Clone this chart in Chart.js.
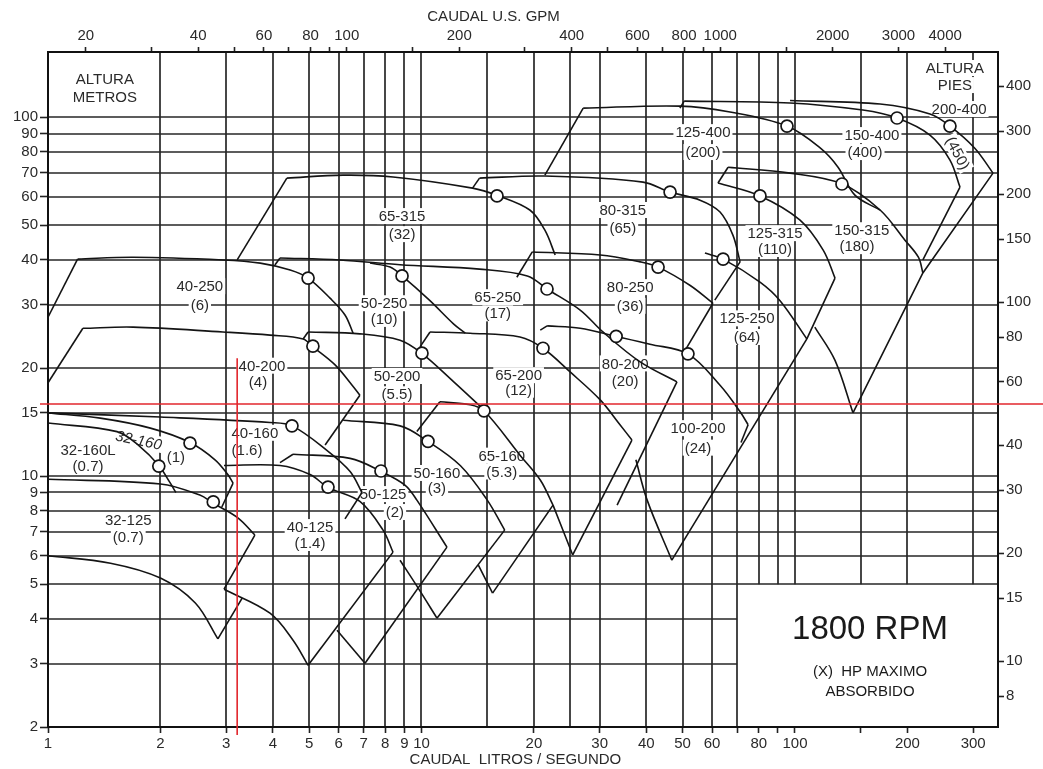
<!DOCTYPE html>
<html lang="es">
<head>
<meta charset="utf-8">
<title>Curvas 1800 RPM</title>
<script src="https://cdn.jsdelivr.net/npm/chart.js@4.4.1/dist/chart.umd.min.js"></script>
<style>
  html, body { margin: 0; padding: 0; background: #fff; }
  canvas { display: block; }
</style>
</head>
<body>
<canvas id="grafico" width="1043" height="769"></canvas>
<script>
// ejes
const Q_MIN = 1, Q_MAX = 349.6;   // litros / segundo
const H_MIN = 2, H_MAX = 151.8;   // metros
const GPM = 15.85;                // 1 L/s en US GPM
const PIES = 3.2808;              // 1 m en pies

const ticksQ = [1,2,3,4,5,6,7,8,9,10,20,30,40,50,60,70,80,90,100,150,200,300];
const labelsQ = [1,2,3,4,5,6,7,8,9,10,20,30,40,50,60,80,100,200,300];
const ticksH = [2,3,4,5,6,7,8,9,10,15,20,30,40,50,60,70,80,90,100];
const ticksGPM = [20,30,40,50,60,70,80,90,100,150,200,300,400,500,600,700,800,900,1000,1500,2000,3000,4000];
const labelsGPM = [20,40,60,80,100,200,400,600,800,1000,2000,3000,4000];
const ticksPies = [8,10,15,20,30,40,60,80,100,150,200,300,400];
const gridQ = [2,3,4,5,6,7,8,9,10,15,20,25,30,40,50,60,70,80,90,100,150,200,300];
const gridH = [3,4,5,6,7,8,9,10,15,20,30,40,50,60,70,80,90,100];

// curvas H-Q  [caudal L/s, altura m]
const b32_160 = [[1,15],[1.38,14.5],[1.88,13.6],[2.4,12.4],[2.8,11.1],[3.03,10.1],[3.13,9.56]];
const b32_160L = [[1,14.05],[1.53,13.3],[1.76,12.1],[1.98,10.7],[2.12,9.6],[2.2,9.0]];
const b32_125 = [[1,9.8],[2,9.5],[2.55,8.85],[2.77,8.4],[3.23,7.64],[3.58,6.85]];
const b32_125min = [[1,6],[1.47,5.72],[2,5.2],[2.48,4.43],[2.85,3.52]];

const b40_250 = [[1.2,40.2],[1.69,40.7],[2.94,40],[3.7,39.2],[4.45,37.5],[4.97,35.6],[5.69,31.3],[6.24,28.1],[6.56,25]];
const b40_200 = [[1.24,25.8],[1.69,26],[2.94,25.2],[3.93,24.7],[4.82,24.1],[5.12,22.9],[5.87,20.4],[6.52,17.9],[6.84,16.8]];
const b40_160 = [[1,15],[2,14.6],[3.93,14.1],[4.5,13.8],[5.58,11.8],[6.44,10.3],[6.93,9.0]];
const b40_125 = [[2.96,10.7],[4.18,10.7],[5.03,10.1],[5.62,9.3],[6.84,8.5],[7.89,7.07],[8.39,6.14]];
const b40_125min = [[2.96,4.84],[3.93,4.15],[4.53,3.49],[4.97,2.97]];

const b50_250 = [[7.28,39.2],[8.24,38.2],[8.87,36.1],[10.5,30.9],[12.2,26.5],[13.1,25.0]];
const b50_200 = [[4.97,25.2],[6.84,24.9],[8.76,23.9],[10,22],[12.2,18.3],[14.5,15.5]];
const b50_160 = [[6.17,14.3],[8.76,13.8],[10.4,12.5],[12.7,10.7],[15,8.57],[16.7,7.07]];
const b50_160min = [[8.76,5.83],[9.79,4.88],[11,4.02]];
const b50_125 = [[4.53,11.5],[6.44,11.2],[7.8,10.3],[9.03,9.44],[9.72,8.57],[11.7,6.34]];
const b50_125min = [[5.94,3.72],[7.06,3.01]];

const b65_315 = [[4.36,67.6],[6.17,68.9],[8.39,68.1],[13.7,63.4],[15.9,60.6],[19.5,55.1],[21.4,48.4],[22.8,41.3]];
const b65_250 = [[4.18,40.5],[6.05,40],[8.76,38.8],[14.3,37.7],[19.2,36.1],[21.7,33.2],[26.6,29],[30.6,25.2],[38.5,20.8],[48.3,18.3]];
const b65_200 = [[10.54,25.2],[13.49,25.0],[18.35,24.4],[21.15,22.7],[25,19.5],[30.1,16.3],[34,13.9],[36.6,12.6]];
const b65_200min = [[22.5,8.3],[25.4,6.03]];
const b65_160 = [[11.2,16.1],[13.5,15.8],[14.7,15.2],[18.4,11.4],[20.8,9.75],[22.5,8.3]];
const b65_160min = [[14.2,5.65],[15.5,4.72]];

const b80_315 = [[14.3,67.6],[21.4,68.5],[39.2,65.9],[46.3,61.8],[55.7,58.7],[63,54.4],[68.2,46.9],[71.3,39.5]];
const b80_250 = [[19.8,42.1],[30.1,41.3],[38.5,39.5],[43,38.2],[52.3,34],[60.3,30.3]];
const b80_200 = [[21.7,26.2],[26.6,25.8],[33.2,24.5],[40.9,23.3],[51.7,21.9],[63,17.9],[71.3,15.1],[74.9,13.9]];
const b100_200min = [[37.5,11.1],[40.2,8.57],[46.8,5.83]];

const b125_400 = [[27.1,105.9],[49.2,107.3],[67,103.3],[95.2,94.4],[117,81.9],[130.4,72.5],[144.7,60.6],[168.9,55.1]];
const b125_315 = [[62.2,65.5],[80.6,60.3],[103,51.7],[119,42.6],[128,35.6]];
const b125_250 = [[57.4,41.8],[64.2,40.2],[80.6,34.7],[91.2,30.8],[107.6,24.1]];
const b150_400 = [[50.5,110.8],[97,109.5],[152,104.6],[187.6,99.4],[229.8,89.1],[260,75.9],[276.6,63.8]];
const b150_315 = [[66.2,72.5],[97,69.8],[134,65.1],[169,55.1],[197,45.4],[214,40.7],[220,36.8]];
const b150_315min = [[113,26],[128,21],[143,15]];
const b200_400 = [[97,111.2],[169,108.7],[229.8,102],[260,94.4],[303,81.9],[339,69.8]];

// limites rectos de cada zona
const l32_160 = [[3.13,9.56],[2.92,8.2]];
const l32_125 = [[3.58,6.85],[2.96,4.84]];
const l32_125min = [[2.85,3.52],[3.31,4.57]];
const l40_250 = [[1,27.7],[1.2,40.2]];
const l40_200 = [[1,18.2],[1.24,25.8]];
const l40_200b = [[6.84,16.8],[5.52,12.2]];
const l40_160 = [[6.93,9.0],[6.24,7.6]];
const l40_125 = [[8.39,6.14],[4.97,2.97]];
const l50_200 = [[4.82,24.1],[4.97,25.2]];
const l50_160 = [[16.7,7.07],[11,4.02]];
const l50_125 = [[4.18,10.9],[4.53,11.5]];
const l50_125b = [[11.7,6.34],[7.06,3.01]];
const l65_315 = [[3.21,40],[4.36,67.6]];
const l65_250 = [[4.05,38.7],[4.18,40.5]];
const l65_250b = [[48.3,18.3],[33.4,8.3]];
const l65_200a = [[9.91,22.9],[10.54,25.2]];
const l65_200 = [[36.6,12.6],[25.4,6.03]];
const l65_160 = [[9.72,13.3],[11.2,16.1]];
const l65_160b = [[22.5,8.3],[15.5,4.72]];
const l80_315 = [[13.7,63.4],[14.3,67.6]];
const l80_315b = [[71.3,39.5],[61,30.9]];
const l80_250 = [[18,35.8],[19.8,42.1]];
const l80_250b = [[60.3,30.3],[50.8,22.4]];
const l80_200 = [[20.8,25.5],[21.7,26.2]];
const l100_200 = [[74.9,13.9],[71.7,12.4]];
const l125_400 = [[21.4,68.9],[27.1,105.9]];
const l125_315 = [[128,35.6],[107.6,24.1]];
const l125_250 = [[107.6,24.1],[46.8,5.83]];
const l150_400 = [[49.2,105.9],[50.5,110.8]];
const l150_400b = [[276.6,63.8],[220,40]];
const l150_315 = [[62.2,65.5],[66.2,72.5]];
const l200_400 = [[339,69.8],[220,36.8],[143,15]];

// puntos de maxima eficiencia
const bep = [[1.98,10.66],[2.4,12.36],[2.77,8.47],[4.5,13.8],[5.62,9.32],[7.79,10.33],[5.12,23.0],[4.97,35.6],
  [8.87,36.1],[10.03,22.0],[10.41,12.5],[14.7,15.2],[21.15,22.7],[21.68,33.2],[15.93,60.3],[33.2,24.5],
  [43.0,38.2],[46.3,61.8],[51.7,21.9],[64.2,40.2],[80.6,60.3],[95.2,94.4],[133.6,65.1],[187.6,99.4],[260,94.4]];

// lineas rojas de seleccion
const selQ = 3.21, selH = 15.87, selHtop = 21.3;

// textos  [texto, Q, H, giro grados, cursiva]
const etiquetas = [
  ['ALTURA',1.42,128],['METROS',1.42,113.7],
  ['ALTURA',268,137],['PIES',268,122.8],
  ['32-160L',1.28,11.8],['(0.7)',1.28,10.7],
  ['32-160',1.75,12.6,12,true],['(1)',2.2,11.3],
  ['32-125',1.64,7.54],['(0.7)',1.64,6.76],
  ['40-125',5.03,7.21],['(1.4)',5.03,6.51],
  ['40-160',3.58,13.2],['(1.6)',3.41,11.8],
  ['40-200',3.74,20.3],['(4)',3.65,18.3],
  ['40-250',2.55,33.8],['(6)',2.55,29.9],
  ['50-125',7.89,8.91],['(2)',8.49,7.94],
  ['50-160',11.0,10.2],['(3)',11.0,9.26],
  ['50-200',8.6,19.0],['(5.5)',8.6,16.9],
  ['50-250',7.94,30.3],['(10)',7.94,27.4],
  ['65-160',16.4,11.4],['(5.3)',16.4,10.3],
  ['65-200',18.2,19.1],['(12)',18.2,17.4],
  ['65-250',16.0,31.5],['(17)',16.0,28.4],
  ['65-315',8.87,53.0],['(32)',8.87,47.2],
  ['80-200',35.1,20.6],['(20)',35.1,18.4],
  ['80-250',36.2,33.6],['(36)',36.2,29.8],
  ['80-315',34.6,55.1],['(65)',34.6,49.1],
  ['100-200',55.0,13.6],['(24)',55.0,12.0],
  ['125-250',74.4,27.5],['(64)',74.4,24.4],
  ['125-315',88.4,47.5],['(110)',88.4,42.9],
  ['125-400',56.7,90.8],['(200)',56.7,79.9],
  ['150-315',151,48.4],['(180)',146.5,43.7],
  ['150-400',160.7,89.1],['(400)',154,79.9],
  ['200-400',275,105.3],
  ['(450)',273,79.4,62]
];
const rpm = [['1800 RPM',158.8,3.72,33],['(X)  HP MAXIMO',158.8,2.84,15],['ABSORBIDO',158.8,2.5,15]];

const FUENTE = '"Liberation Sans", Arial, Helvetica, sans-serif';
const TINTA = '#141414';

const curvas = [b32_160,b32_160L,b32_125,b32_125min,b40_250,b40_200,b40_160,b40_125,b40_125min,
  b50_250,b50_200,b50_160,b50_160min,b50_125,b50_125min,b65_315,b65_250,b65_200,b65_200min,b65_160,b65_160min,
  b80_315,b80_250,b80_200,b100_200min,b125_400,b125_315,b125_250,b150_400,b150_315,b150_315min,b200_400];
const limites = [l32_160,l32_125,l32_125min,l40_250,l40_200,l40_200b,l40_160,l40_125,l50_200,
  l50_160,l50_125,l50_125b,l65_315,l65_250,l65_250b,l65_200a,l65_200,l65_160,l65_160b,l80_315,l80_315b,l80_250,l80_250b,
  l80_200,l100_200,l125_400,l125_315,l125_250,l150_400,l150_400b,l150_315,l200_400];

function pts(arr) {
  return arr.map(([q, h]) => ({ x: q, y: h }));
}

function linea(arr, tension) {
  return {
    data: pts(arr), showLine: true, tension: tension, borderColor: TINTA, borderWidth: 1.6,
    pointRadius: 0, fill: false, order: 1
  };
}

//  grilla, textos y marco
const decor = {
  id: 'decor',
  beforeDatasetsDraw(chart) {
    const { ctx, chartArea: a, scales: { x, y } } = chart;
    ctx.save();
    ctx.strokeStyle = '#262626';
    ctx.lineWidth = 1.7;
    const yCaja = y.getPixelForValue(5), xCaja = x.getPixelForValue(70);
    gridQ.forEach(q => {
      const px = Math.round(x.getPixelForValue(q));
      ctx.beginPath();
      ctx.moveTo(px, a.top);
      ctx.lineTo(px, q > 70 ? yCaja : a.bottom);
      ctx.stroke();
    });
    gridH.forEach(h => {
      const py = Math.round(y.getPixelForValue(h));
      ctx.beginPath();
      ctx.moveTo(a.left, py);
      ctx.lineTo(h < 5 ? xCaja : a.right, py);
      ctx.stroke();
    });

    ctx.textAlign = 'center';
    ctx.textBaseline = 'middle';
    etiquetas.forEach(([t, q, h, giro, cursiva]) => {
      ctx.save();
      ctx.translate(x.getPixelForValue(q), y.getPixelForValue(h));
      if (giro) ctx.rotate(giro * Math.PI / 180);
      ctx.font = (cursiva ? 'italic ' : '') + '15px ' + FUENTE;
      const w = ctx.measureText(t).width;
      ctx.fillStyle = '#fff';
      ctx.fillRect(-w / 2 - 2, -8, w + 4, 16);
      ctx.fillStyle = '#2a2a2a';
      ctx.fillText(t, 0, 1);
      ctx.restore();
    });
    rpm.forEach(([t, q, h, tam]) => {
      ctx.font = tam + 'px ' + FUENTE;
      ctx.fillStyle = '#1a1a1a';
      ctx.fillText(t, x.getPixelForValue(q), y.getPixelForValue(h));
    });
    ctx.restore();
  },
  afterDatasetsDraw(chart) {
    const { ctx, chartArea: a, scales: { x, y } } = chart;
    ctx.save();
    ctx.strokeStyle = '#111';
    ctx.lineWidth = 2;
    ctx.strokeRect(a.left, a.top, a.right - a.left, a.bottom - a.top);

    ctx.fillStyle = '#2a2a2a';
    ctx.font = '15px ' + FUENTE;
    ctx.textAlign = 'center';
    ctx.textBaseline = 'middle';
    const w = a.right - a.left;
    ctx.fillText('CAUDAL U.S. GPM', a.left + w * 0.469, 17);
    ctx.fillText('CAUDAL  LITROS / SEGUNDO', a.left + w * 0.492, a.bottom + 33);

    // seleccion en rojo
    ctx.strokeStyle = '#e2262c';
    ctx.lineWidth = 1.6;
    const py = y.getPixelForValue(selH);
    ctx.beginPath();
    ctx.moveTo(a.left - 8, py);
    ctx.lineTo(chart.width, py);
    ctx.stroke();
    const px = x.getPixelForValue(selQ);
    ctx.beginPath();
    ctx.moveTo(px, y.getPixelForValue(selHtop));
    ctx.lineTo(px, a.bottom + 8);
    ctx.stroke();
    ctx.restore();
  }
};

function eje(pos, min, max, ticks, etiq, tam, largo) {
  return {
    type: 'logarithmic', position: pos, min: min, max: max,
    afterBuildTicks: s => { s.ticks = ticks.map(v => ({ value: v })); },
    afterFit: s => {
      if (pos === 'left' || pos === 'right') s.width = tam; else s.height = tam;
    },
    grid: { drawOnChartArea: false, drawTicks: true, tickLength: largo, tickColor: '#222', tickWidth: 1.6 },
    border: { display: false },
    ticks: {
      autoSkip: false, maxRotation: 0, minRotation: 0, padding: 2, color: '#2a2a2a',
      font: { size: 15, family: FUENTE },
      callback: v => (etiq.includes(v) ? String(v) : '')
    }
  };
}

const datasets = [
  {
    data: pts(bep), showLine: false, pointRadius: 6, pointBackgroundColor: '#fff',
    pointBorderColor: TINTA, pointBorderWidth: 1.7, order: 0
  },
  ...curvas.map(c => linea(c, 0.35)),
  ...limites.map(c => linea(c, 0))
];

new Chart(document.getElementById('grafico'), {
  type: 'scatter',
  data: { datasets },
  options: {
    responsive: false,
    animation: false,
    devicePixelRatio: 1,
    events: [],
    layout: { padding: 0 },
    plugins: { legend: { display: false }, tooltip: { enabled: false } },
    scales: {
      x: eje('bottom', Q_MIN, Q_MAX, ticksQ, labelsQ, 42, 6),
      x2: eje('top', Q_MIN * GPM, Q_MAX * GPM, ticksGPM, labelsGPM, 52, 5),
      y: eje('left', H_MIN, H_MAX, ticksH, ticksH, 48, 8),
      y2: eje('right', H_MIN * PIES, H_MAX * PIES, ticksPies, ticksPies, 45, 6)
    }
  },
  plugins: [decor]
});
</script>
</body>
</html>
